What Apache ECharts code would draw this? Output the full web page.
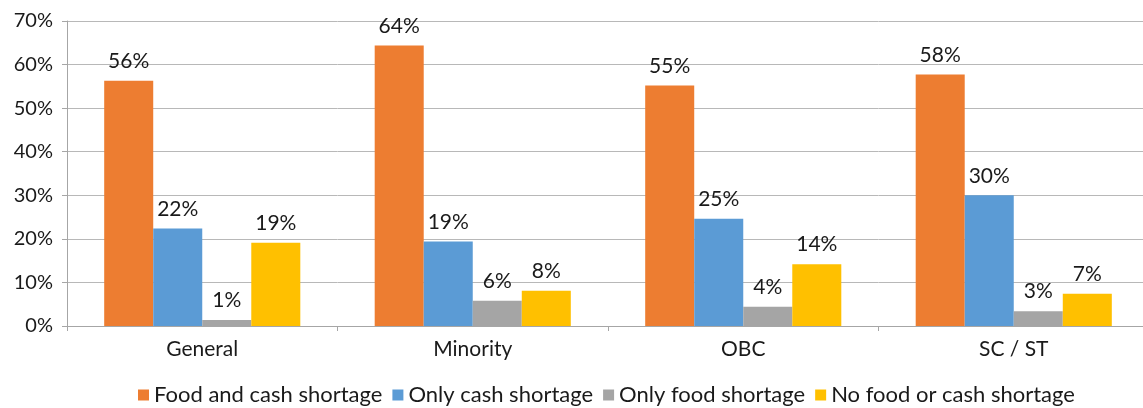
<!DOCTYPE html>
<html>
<head>
<meta charset="utf-8">
<script src="https://cdn.jsdelivr.net/npm/echarts@6/dist/echarts.min.js"></script>
<style>
  html, body { margin: 0; padding: 0; background: #fff; overflow: hidden; }
  /* a few px wider than the window: the plot runs past the right edge like the original */
  #chart { width: 1149px; height: 408px; }
</style>
</head>
<body>
<div id="chart"></div>
<script>
// categories and series values (percent)
var categories = ['General', 'Minority', 'OBC', 'SC / ST'];
var seriesNames = ['Food and cash shortage', 'Only cash shortage', 'Only food shortage', 'No food or cash shortage'];
var foodAndCash = [56.3, 64.4, 55.2, 57.7];
var onlyCash = [22.4, 19.4, 24.6, 30.0];
var onlyFood = [1.4, 5.8, 4.4, 3.4];
var noShortage = [19.1, 8.1, 14.2, 7.4];
var colors = ['#ED7D31', '#5B9BD5', '#A5A5A5', '#FFC000'];

var font = 'Lato';
var allValues = [foodAndCash, onlyCash, onlyFood, noShortage];

var myChart = echarts.init(document.getElementById('chart'));

var series = allValues.map(function (vals, i) {
  return {
    name: seriesNames[i],
    type: 'bar',
    barGap: '0%',
    barCategoryGap: '27.5%',
    color: colors[i],
    label: {
      show: true,
      position: 'top',
      distance: 9,
      fontFamily: font,
      fontSize: 21,
      color: '#1a1a1a',
      formatter: function (p) { return Math.round(p.value) + '%'; }
    },
    data: vals
  };
});

myChart.setOption({
  animation: false,
  textStyle: { fontFamily: font },
  grid: { left: 67, right: 0, top: 21, bottom: 82 },
  legend: {
    top: 379,
    left: 133,
    itemWidth: 11,
    itemHeight: 11,
    itemGap: 10,
    icon: 'rect',
    textStyle: { fontFamily: font, fontSize: 22, color: '#1a1a1a' },
    data: seriesNames
  },
  xAxis: {
    type: 'category',
    data: categories,
    axisLine: { lineStyle: { color: '#A6A6A6', width: 1 } },
    axisTick: { show: true, length: 5, lineStyle: { color: '#A6A6A6' } },
    axisLabel: { fontFamily: font, fontSize: 21, color: '#1a1a1a', margin: 13 }
  },
  yAxis: {
    type: 'value',
    min: 0,
    max: 70,
    interval: 10,
    axisLine: { show: true, lineStyle: { color: '#A6A6A6', width: 1 } },
    axisTick: { show: true, length: 5, lineStyle: { color: '#A6A6A6' } },
    splitLine: { show: true, lineStyle: { color: '#B8B8B8', width: 1 } },
    axisLabel: { fontFamily: font, fontSize: 20, color: '#1a1a1a', margin: 14, formatter: '{value}%' }
  },
  series: series
});
</script>
</body>
</html>
